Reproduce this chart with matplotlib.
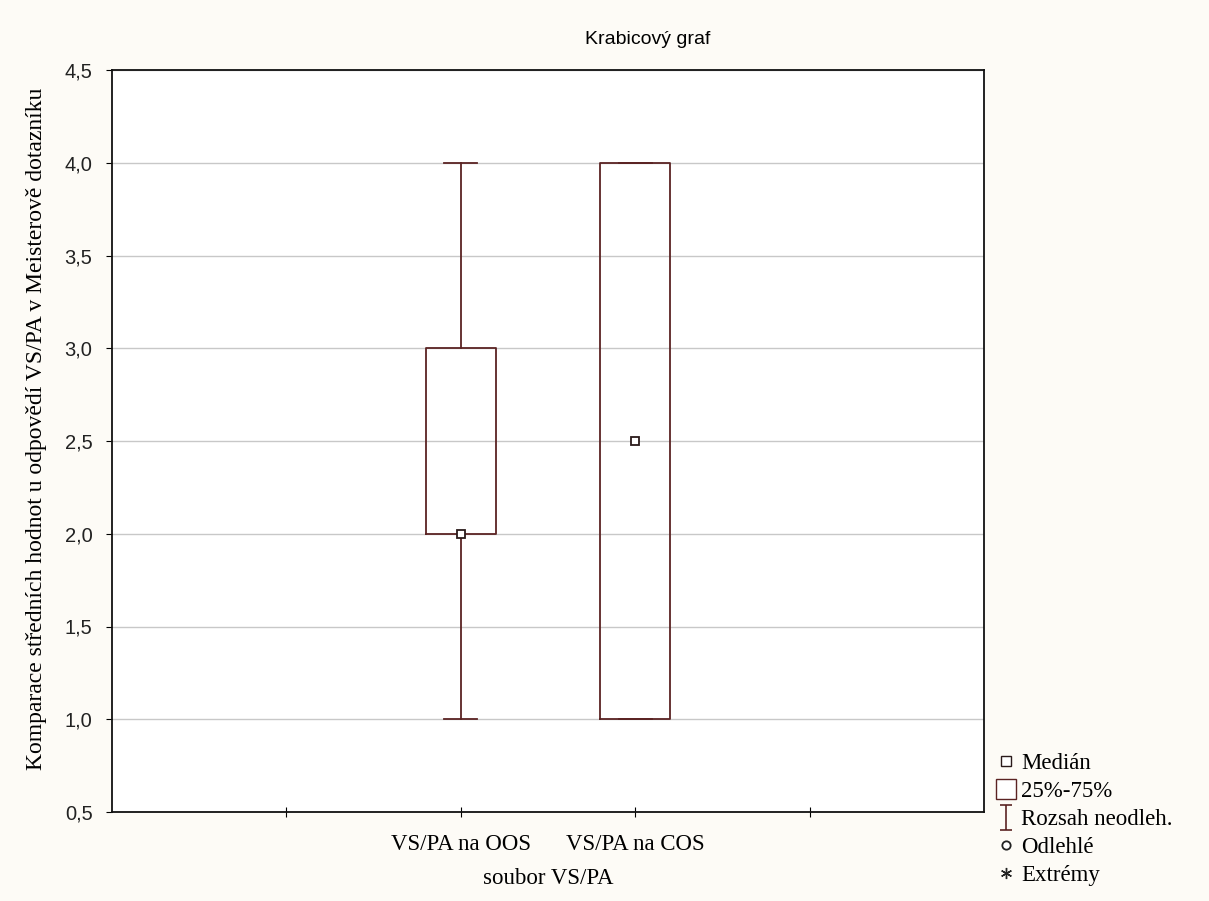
import numpy as np
import matplotlib.pyplot as plt
from matplotlib.lines import Line2D
from matplotlib.path import Path

# data
groups = ["VS/PA na OOS", "VS/PA na COS"]
positions = [2, 3]
q_min = [1.0, 1.0]
q1 = [2.0, 1.0]
medians = [2.0, 2.5]
q3 = [3.0, 4.0]
q_max = [4.0, 4.0]
yticks = [0.5, 1.0, 1.5, 2.0, 2.5, 3.0, 3.5, 4.0, 4.5]

edge = "#5b2323"
serif = ["Liberation Serif", "DejaVu Serif"]
sans = ["Liberation Sans", "DejaVu Sans"]


def main():
    fig = plt.figure(figsize=(12.09, 9.01), dpi=100, facecolor="#fdfbf6")
    ax = fig.add_axes([112 / 1209, 1 - 812 / 901, 872 / 1209, 742 / 901])
    ax.set_facecolor("white")

    stats = []
    for i in range(len(groups)):
        stats.append({"whislo": q_min[i], "q1": q1[i], "med": medians[i],
                      "q3": q3[i], "whishi": q_max[i], "fliers": []})

    ax.bxp(stats, positions=positions, widths=0.4, capwidths=0.19,
           showfliers=False,
           boxprops=dict(color=edge, linewidth=1.3),
           whiskerprops=dict(color=edge, linewidth=1.3),
           capprops=dict(color=edge, linewidth=1.3),
           medianprops=dict(linewidth=0), zorder=3)
    ax.plot(positions, medians, linestyle="none", marker="s", markersize=6,
            markerfacecolor="white", markeredgecolor="#2a1a1a",
            markeredgewidth=1.3, zorder=4)

    ax.set_xlim(0, 5)
    ax.set_ylim(0.5, 4.5)
    ax.set_yticks(yticks)
    ax.set_yticklabels([("%.1f" % v).replace(".", ",") for v in yticks],
                       family=sans, fontsize=14.5, color="#222222")
    ax.set_xticks([1, 2, 3, 4])
    ax.set_xticklabels(["", groups[0], groups[1], ""], family=serif,
                       fontsize=16.5)
    ax.tick_params(axis="x", direction="inout", length=7, pad=12)
    ax.tick_params(axis="y", direction="out", length=4, pad=10)
    ax.grid(axis="y", color="#c8c8c8", linewidth=1)
    ax.set_axisbelow(True)
    for s in ax.spines.values():
        s.set_linewidth(1.3)
        s.set_color("#111111")

    # title sits right of the axes centre in the original
    fig.text(648 / 1209, 1 - 40 / 901, "Krabicový graf", family=sans,
             fontsize=14, ha="center", va="center")
    ax.set_xlabel("soubor VS/PA", family=serif, fontsize=16.5, labelpad=10)
    ax.set_ylabel("Komparace středních hodnot u odpovědí VS/PA v Meisterově dotazníku",
                  family=serif, fontsize=17)
    ax.yaxis.set_label_coords(-0.075, 0.516)

    # legend with statistica-style symbols
    whisker = Path([(-0.5, 1), (0.5, 1), (0, 1), (0, -1), (-0.5, -1), (0.5, -1)],
                   [Path.MOVETO, Path.LINETO, Path.MOVETO, Path.LINETO,
                    Path.MOVETO, Path.LINETO])
    handles = [
        Line2D([], [], linestyle="none", marker="s", markersize=7,
               markerfacecolor="white", markeredgecolor="#2a1a1a"),
        Line2D([], [], linestyle="none", marker="s", markersize=15,
               markerfacecolor="white", markeredgecolor=edge),
        Line2D([], [], linestyle="none", marker=whisker, markersize=18,
               markeredgecolor=edge, markeredgewidth=1.2),
        Line2D([], [], linestyle="none", marker="o", markersize=6,
               markerfacecolor="white", markeredgecolor="#222222",
               markeredgewidth=1.3),
        Line2D([], [], linestyle="none", marker=(6, 2, 0), markersize=8,
               markeredgecolor="#222222"),
    ]
    labels = ["Medián", "25%-75%", "Rozsah neodleh.", "Odlehlé", "Extrémy"]
    fig.legend(handles, labels, loc="lower left",
               bbox_to_anchor=(983 / 1209, 0), frameon=False,
               prop={"family": serif, "size": 16.5}, handlelength=0.75,
               handletextpad=0.25, labelspacing=0.3, borderpad=0.15)

    fig.savefig("out.png", dpi=100, facecolor=fig.get_facecolor())


if __name__ == '__main__':
    main()
